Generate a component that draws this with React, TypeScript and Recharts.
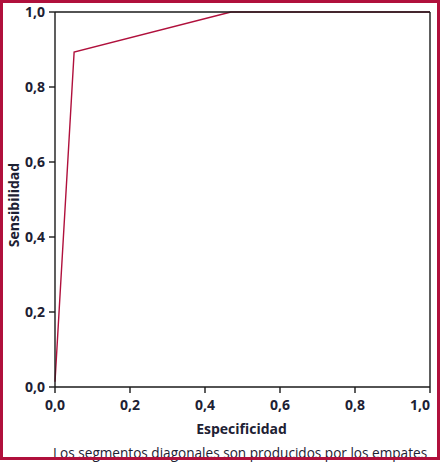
import React from 'react';
import { LineChart, Line, XAxis, YAxis, ReferenceLine } from 'recharts';

const especificidad = [0, 0.051, 0.469, 1];
const sensibilidad = [0.014, 0.893, 1, 1];
const tickValues = [0, 0.2, 0.4, 0.6, 0.8, 1];

const data = especificidad.map((x, i) => ({ x, y: sensibilidad[i] }));

const INK = '#1d2133';
const RED = '#b0103c';
const FONT = '"Open Sans", "DejaVu Sans", sans-serif';

const fmt = (v: number) => v.toFixed(1).replace('.', ',');

const XTick = (props: any) => {
  const { x, y, payload } = props;
  const last = payload.value === 1;
  return (
    <text x={x} y={y} dy="0.71em" textAnchor={last ? 'end' : 'middle'}
      fill={INK} fontSize={14} fontWeight={700} fontFamily={FONT}>
      {fmt(payload.value)}
    </text>
  );
};

const YTick = (props: any) => {
  const { x, y, payload } = props;
  return (
    <text x={x} y={y} dy="0.35em" textAnchor="end"
      fill={INK} fontSize={14} fontWeight={700} fontFamily={FONT}>
      {fmt(payload.value)}
    </text>
  );
};

export default function App() {
  return (
    <div style={{ position: 'absolute', left: 0, top: 0, width: 443, height: 462, background: '#fff' }}>
      <LineChart width={443} height={462} data={data}
        margin={{ top: 12, right: 13, bottom: 30, left: 0 }}>
        <XAxis dataKey="x" type="number" domain={[0, 1]} ticks={tickValues}
          height={45} tickSize={6} tickMargin={7} tick={XTick}
          axisLine={{ stroke: '#1a1a1a', strokeWidth: 1.4 }}
          tickLine={{ stroke: '#1a1a1a', strokeWidth: 1.4 }}
          label={{
            content: (p: any) => {
              const vb = p.viewBox;
              return (
                <text x={vb.x + vb.width / 2 - 1} y={434} textAnchor="middle"
                  fill={INK} fontSize={14} fontWeight={700} fontFamily={FONT}>
                  Especificidad
                </text>
              );
            },
          }} />
        <YAxis dataKey="y" type="number" domain={[0, 1]} ticks={tickValues}
          width={55} tickSize={6} tickMargin={4} tick={YTick}
          axisLine={{ stroke: '#1a1a1a', strokeWidth: 1.4 }}
          tickLine={{ stroke: '#1a1a1a', strokeWidth: 1.4 }}
          label={{
            content: () => (
              <text x={13} y={205} transform="rotate(-90 13 205)" textAnchor="middle"
                dominantBaseline="central"
                fill={INK} fontSize={14} fontWeight={700} fontFamily={FONT}>
                Sensibilidad
              </text>
            ),
          }} />
        <Line type="linear" dataKey="y" stroke={RED} strokeWidth={1.4} dot={false}
          isAnimationActive={false} />
        <ReferenceLine y={1} stroke="#1a1a1a" strokeWidth={1.4} />
        <ReferenceLine x={1} stroke="#1a1a1a" strokeWidth={1.4} />
      </LineChart>
      <div style={{
        position: 'absolute', left: 53, top: 445, fontFamily: FONT, fontSize: 13.6,
        lineHeight: '16px', color: INK, whiteSpace: 'nowrap',
      }}>
        Los segmentos diagonales son producidos por los empates
      </div>
      <div style={{
        position: 'absolute', left: 0, top: 0, width: 440, height: 460,
        boxSizing: 'border-box', border: `3px solid ${RED}`, pointerEvents: 'none',
      }} />
    </div>
  );
}
